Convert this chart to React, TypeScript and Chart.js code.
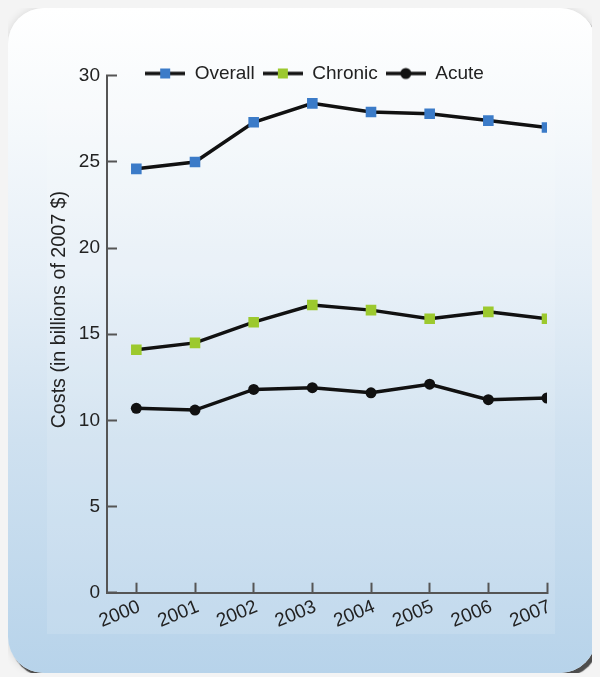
import React, { useEffect, useRef } from "react";
import { Chart, registerables } from "chart.js";

Chart.register(...registerables);

const years = [2000, 2001, 2002, 2003, 2004, 2005, 2006, 2007];
const overall = [24.6, 25.0, 27.3, 28.4, 27.9, 27.8, 27.4, 27.0];
const chronic = [14.1, 14.5, 15.7, 16.7, 16.4, 15.9, 16.3, 15.9];
const acute = [10.7, 10.6, 11.8, 11.9, 11.6, 12.1, 11.2, 11.3];
const yTicks = [0, 5, 10, 15, 20, 25, 30];
const seriesNames = ["Overall", "Chronic", "Acute"];
const seriesColors = ["#3b7bc8", "#9cc92e", "#111111"];
const yTitle = "Costs (in billions of 2007 $)";

const FONT = "'Liberation Sans', Arial, Helvetica, sans-serif";

function legendSymbol(color: string, shape: "rect" | "circle") {
  const c = document.createElement("canvas");
  c.width = 40;
  c.height = 14;
  const ctx = c.getContext("2d")!;
  ctx.strokeStyle = "#111";
  ctx.lineWidth = 3.5;
  ctx.beginPath();
  ctx.moveTo(0, 7);
  ctx.lineTo(40, 7);
  ctx.stroke();
  ctx.fillStyle = color;
  if (shape === "rect") {
    ctx.fillRect(15, 2, 10, 10);
  } else {
    ctx.beginPath();
    ctx.arc(20, 7, 5.5, 0, Math.PI * 2);
    ctx.fill();
  }
  return c;
}

const layoutFix = {
  id: "layoutFix",
  beforeInit(chart: any) {
    const lg = chart.legend;
    if (lg) {
      const orig = lg.fit.bind(lg);
      lg.fit = function () {
        orig();
        this.height = 27.8;
      };
    }
  },
  afterLayout(chart: any) {
    const lg = chart.legend;
    if (lg) {
      lg.left += 17;
      lg.right += 17;
      lg.top += 8;
      lg.bottom += 8;
    }
  },
};

export default function App() {
  const ref = useRef<HTMLCanvasElement | null>(null);

  useEffect(() => {
    document.body.style.background = "#f4f4f4";
    const canvas = ref.current;
    if (!canvas) return;
    const shapes: ("rect" | "circle")[] = ["rect", "rect", "circle"];
    const symbols = seriesColors.map((c, i) => legendSymbol(c, shapes[i]));
    const values = [overall, chronic, acute];

    const chart = new Chart(canvas, {
      type: "line",
      data: {
        datasets: seriesNames.map((name, i) => ({
          label: name,
          data: years.map((x, j) => ({ x, y: values[i][j] })),
          borderColor: "#111111",
          borderWidth: 3.5,
          tension: 0,
          pointStyle: shapes[i] === "rect" ? "rect" : "circle",
          pointRadius: shapes[i] === "rect" ? 7.5 : 5.5,
          pointBackgroundColor: seriesColors[i],
          pointBorderWidth: 0,
          fill: false,
        })),
      },
      options: {
        responsive: false,
        animation: false,
        devicePixelRatio: 1,
        events: [],
        layout: { padding: { left: 40, right: 49, top: 40, bottom: 0 } },
        plugins: {
          tooltip: { enabled: false },
          legend: {
            display: true,
            position: "top",
            align: "center",
            labels: {
              usePointStyle: true,
              pointStyleWidth: 40,
              padding: 8,
              color: "#222",
              font: { size: 19, family: FONT },
              generateLabels: (ch: any) =>
                ch.data.datasets.map((ds: any, i: number) => ({
                  text: ds.label,
                  pointStyle: symbols[i],
                  fillStyle: seriesColors[i],
                  strokeStyle: "#111",
                  lineWidth: 0,
                  hidden: false,
                  datasetIndex: i,
                  fontColor: "#222",
                })),
            },
          },
        },
        scales: {
          x: {
            type: "linear",
            min: 1999.5,
            max: 2007,
            afterBuildTicks: (s: any) => {
              s.ticks = years.map((v) => ({ value: v }));
            },
            afterFit: (s: any) => {
              s.height = 80.3;
            },
            grid: {
              drawOnChartArea: false,
              drawTicks: true,
              tickLength: -10,
              tickColor: "#555",
              tickWidth: 2,
            },
            border: { display: true, color: "#555", width: 2 },
            ticks: {
              autoSkip: false,
              minRotation: 22,
              maxRotation: 22,
              padding: 13,
              labelOffset: 3,
              color: "#222",
              font: { size: 19, family: FONT },
              callback: (v: any) => String(v),
            },
          },
          y: {
            min: 0,
            max: 30,
            afterBuildTicks: (s: any) => {
              s.ticks = yTicks.map((v) => ({ value: v }));
            },
            afterFit: (s: any) => {
              s.width = 59;
            },
            grid: {
              drawOnChartArea: false,
              drawTicks: true,
              tickLength: -10,
              tickColor: "#555",
              tickWidth: 2,
            },
            border: { display: true, color: "#555", width: 2 },
            ticks: {
              padding: 17,
              color: "#222",
              font: { size: 19, family: FONT },
              callback: (v: any) => String(v),
            },
            title: {
              display: true,
              text: "         " + yTitle,
              color: "#222",
              font: { size: 19.7, family: FONT },
              padding: { top: 0, bottom: 0 },
            },
          },
        },
      },
      plugins: [layoutFix],
    } as any);

    return () => chart.destroy();
  }, []);

  return (
    <div
      style={{
        position: "relative",
        width: 588,
        height: 665,
        borderRadius: 36,
        background:
          "linear-gradient(to bottom, #ffffff 0%, #f7fafc 15%, #e6eff7 40%, #cfe1f0 65%, #b7d3ea 100%)",
        boxShadow: "3px 4px 1px #4d4d4d, 0 0 8px rgba(0,0,0,0.12)",
        overflow: "visible",
      }}
    >
      <div
        style={{
          position: "absolute",
          left: 39,
          top: 52,
          width: 508,
          height: 574,
          background: "rgba(255,255,255,0.12)",
        }}
      />
      <canvas
        ref={ref}
        width={588}
        height={665}
        style={{ position: "absolute", left: 0, top: 0, width: 588, height: 665 }}
      />
    </div>
  );
}
